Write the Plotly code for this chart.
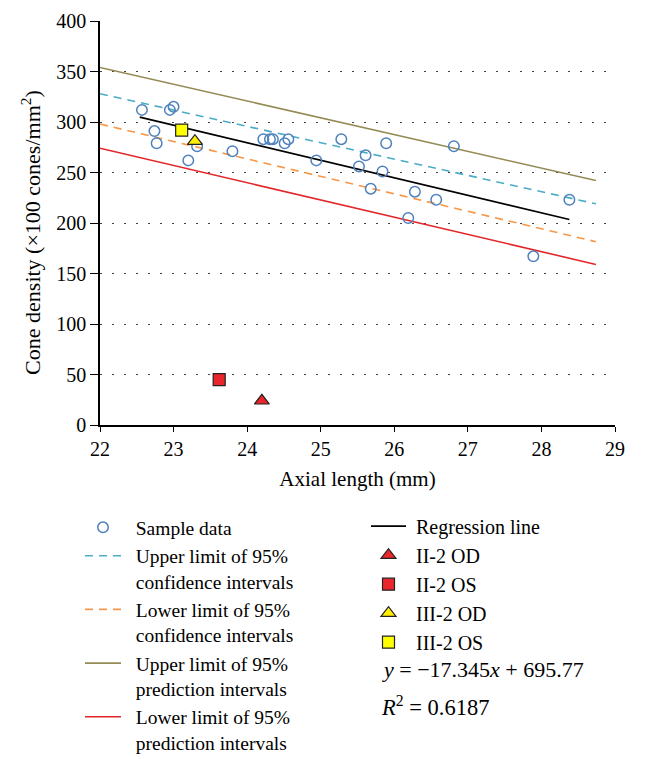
import plotly.graph_objects as go

# ---------------- data ----------------
sample_x = [22.57, 22.74, 22.77, 22.95, 23.00, 23.20, 23.32, 23.80, 24.22, 24.31,
            24.35, 24.51, 24.56, 24.94, 25.28, 25.52, 25.61, 25.68, 25.84, 25.89,
            26.19, 26.28, 26.57, 26.81, 27.89, 28.38]
sample_y = [312, 291, 279, 312, 315, 262, 276, 271, 283, 283,
            283, 279, 283, 262, 283, 256, 267, 234, 251, 279,
            205, 231, 223, 276, 167, 223]

reg_x = [22.54, 28.38]
reg_y = [304.8, 203.5]

band_x = [22.0, 28.74]
upper_ci = [328, 219]
lower_ci = [298, 181.5]
upper_pi = [354, 242]
lower_pi = [274, 159]

special_names = ["II-2 OD", "II-2 OS", "III-2 OD", "III-2 OS"]
special_x = [24.20, 23.62, 23.29, 23.11]
special_y = [24, 45, 281, 292]

equation_text = "<i>y</i> = \u221217.345<i>x</i> + 695.77"
r2_text = "<i>R</i><sup>2</sup> = 0.6187"

x_ticks = [22, 23, 24, 25, 26, 27, 28, 29]
y_ticks = [0, 50, 100, 150, 200, 250, 300, 350, 400]

# ---------------- styling ----------------
FONT = "Liberation Serif"
C_SAMPLE = "#4f81bd"
C_UCI = "#4bacc6"
C_LCI = "#f79646"
C_UPI = "#948a54"
C_LPI = "#e3262a"
PADL = "\u2002"   # small indent of legend text (left column)
PADR = "\u2005"   # small indent of legend text (right column)

W, H = 648, 751   # page adds an 8px body margin around the figure

fig = go.Figure()

band_specs = [
    ("Upper limit of 95%", "confidence intervals", upper_ci, C_UCI, "8px,6px", 2),
    ("Lower limit of 95%", "confidence intervals", lower_ci, C_LCI, "8px,6px", 3),
    ("Upper limit of 95%", "prediction intervals", upper_pi, C_UPI, "solid", 4),
    ("Lower limit of 95%", "prediction intervals", lower_pi, C_LPI, "solid", 5),
]
for l1, l2, ys, col, dash, rank in band_specs:
    name = PADL + l1 + "<br>" + PADL + l2
    fig.add_trace(go.Scatter(
        x=band_x, y=ys, mode="lines", name=name,
        line=dict(color=col, width=1.6, dash=dash),
        legend="legend", legendgroup=name, legendrank=rank,
    ))

fig.add_trace(go.Scatter(
    x=reg_x, y=reg_y, mode="lines", name=PADR + "Regression line",
    line=dict(color="black", width=1.6),
    legend="legend2", legendgroup="reg", legendrank=1,
))

fig.add_trace(go.Scatter(
    x=sample_x, y=sample_y, mode="markers", name=PADL + "Sample data",
    marker=dict(symbol="circle-open", size=10.5, color=C_SAMPLE, line=dict(width=1.5)),
    legend="legend", legendgroup="sample", legendrank=1,
))

special_styles = [
    ("triangle-up", "#e8262b", 13),
    ("square", "#e8262b", 12),
    ("triangle-up", "#ffee00", 13),
    ("square", "#ffff00", 12),
]
for i, (nm, sx, sy) in enumerate(zip(special_names, special_x, special_y)):
    sym, col, sz = special_styles[i]
    fig.add_trace(go.Scatter(
        x=[sx], y=[sy], mode="markers", name=PADR + nm,
        marker=dict(symbol=sym, size=sz, color=col, line=dict(color="#222222", width=1.2)),
        legend="legend2", legendgroup=nm, legendrank=2 + i,
    ))

fig.add_annotation(text=equation_text, xref="paper", yref="paper",
                   x=0.5437, y=-0.6064, xanchor="left", yanchor="middle",
                   showarrow=False, font=dict(family=FONT, size=22, color="black"))
fig.add_annotation(text=r2_text, xref="paper", yref="paper",
                   x=0.542, y=-0.696, xanchor="left", yanchor="middle",
                   showarrow=False, font=dict(family=FONT, size=22.5, color="black"))
# y-axis title
fig.add_annotation(text="Cone density (\u00d7100 cones/mm<sup>2</sup>)",
                   xref="paper", yref="paper", x=-0.134, y=0.478,
                   xanchor="center", yanchor="middle", textangle=-90,
                   showarrow=False, font=dict(family=FONT, size=22, color="black"))

fig.update_layout(
    width=W, height=H,
    margin=dict(l=92, r=41, t=13, b=334, autoexpand=False),
    paper_bgcolor="white", plot_bgcolor="white",
    font=dict(family=FONT, size=20, color="black"),
    xaxis=dict(
        range=[22, 29], tickvals=x_ticks, ticks="outside", ticklen=5, tickwidth=1.2,
        tickcolor="black", showline=True, linecolor="black", linewidth=1.5,
        showgrid=False, zeroline=False,
        title=dict(text="Axial length (mm)", font=dict(family=FONT, size=21), standoff=13),
        tickfont=dict(family=FONT, size=20),
    ),
    yaxis=dict(
        range=[0, 400], tickvals=y_ticks, ticks="outside", ticklen=8, tickwidth=1.2,
        tickcolor="black", showline=True, linecolor="black", linewidth=1.5,
        showgrid=True, gridcolor="#444444", gridwidth=1.2, griddash="2px,10px",
        zeroline=False,
        tickfont=dict(family=FONT, size=20),
    ),
    legend=dict(
        xref="container", yref="container", x=72 / W, y=0.334,
        xanchor="left", yanchor="top", orientation="v",
        font=dict(family=FONT, size=19.5), itemwidth=36, valign="top",
        traceorder="grouped", tracegroupgap=0, bgcolor="rgba(0,0,0,0)",
    ),
    legend2=dict(
        xref="container", yref="container", x=358 / W, y=0.336,
        xanchor="left", yanchor="top", orientation="v",
        font=dict(family=FONT, size=20), itemwidth=35, valign="top",
        traceorder="grouped", tracegroupgap=0, bgcolor="rgba(0,0,0,0)",
    ),
)

fig.write_html("out.html")
